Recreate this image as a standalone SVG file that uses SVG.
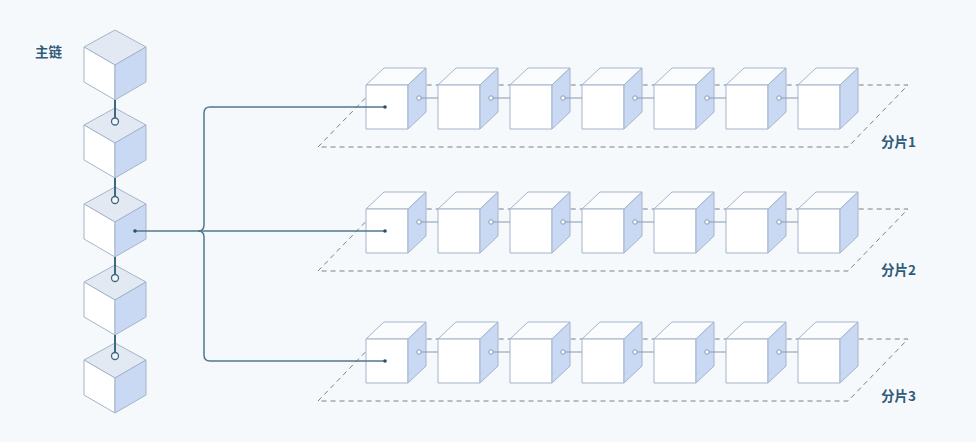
<svg xmlns="http://www.w3.org/2000/svg" xmlns:xlink="http://www.w3.org/1999/xlink" width="976" height="442" viewBox="0 0 976 442">
<style>
.bg{fill:#f6f9fc}
.edge{stroke:#a3b4ca;stroke-width:1;stroke-linejoin:round}
.top{fill:#e3e9f3}
.stop{fill:#fbfcfe}
.left{fill:#ffffff}
.right{fill:#c9d9f4}
.plane{fill:none;stroke:#74838f;stroke-width:1;stroke-dasharray:5 4}
.link{stroke:#3e6880;stroke-width:2;fill:none}
.slink{stroke:#8a9bb0;stroke-width:1;fill:none}
.knob{fill:#f3f6fa;stroke:#3e6880;stroke-width:1.3}
.sknob{fill:#ffffff;stroke:#7f92aa;stroke-width:0.9}
.brace{stroke:#52778f;stroke-width:1.5;fill:none}
.dot{fill:#2f4f66}
.lbl{font-family:"Noto Sans CJK SC","Noto Sans",sans-serif;font-size:13.5px;font-weight:bold;fill:#2f5b78}
</style>
<defs>
<g id="mcube">
<polygon class="top edge" points="0,0 31,17 0,35 -31,17"/>
<polygon class="left edge" points="-31,17 0,35 0,70 -31,52"/>
<polygon class="right edge" points="31,17 0,35 0,70 31,52"/>
</g>
<g id="scube">
<polygon class="stop edge" points="0,0 18,-17 60,-17 42,0"/>
<rect class="left edge" x="0" y="0" width="42" height="44"/>
<polygon class="right edge" points="42,0 60,-17 60,27 42,44"/>
</g>
<g id="slinkc">
<line class="slink" x1="55" y1="13" x2="72" y2="13"/>
<circle class="sknob" cx="53" cy="13" r="2.2"/>
</g>
</defs>
<rect class="bg" x="0" y="0" width="976" height="442"/>

<text class="lbl" x="35" y="57">主链</text>

<g id="planes">
<polygon class="plane" points="318,147 378,85 908,85 848,147"/>
<polygon class="plane" points="318,271 378,209 908,209 848,271"/>
<polygon class="plane" points="318,401 378,339 908,339 848,401"/>
</g>

<g id="main-chain">
<g id="m1"><use xlink:href="#mcube" x="115" y="30"/></g>
<g id="m2"><use xlink:href="#mcube" x="115" y="108"/></g>
<g id="m3"><use xlink:href="#mcube" x="115" y="187"/></g>
<g id="m4"><use xlink:href="#mcube" x="115" y="265"/></g>
<g id="m5"><use xlink:href="#mcube" x="115" y="343"/></g>
</g>

<g id="shard1">
<g id="s1c1"><use xlink:href="#scube" x="366" y="85"/></g>
<g id="s1c2"><use xlink:href="#scube" x="438" y="85"/></g>
<g id="s1c3"><use xlink:href="#scube" x="510" y="85"/></g>
<g id="s1c4"><use xlink:href="#scube" x="582" y="85"/></g>
<g id="s1c5"><use xlink:href="#scube" x="654" y="85"/></g>
<g id="s1c6"><use xlink:href="#scube" x="726" y="85"/></g>
<g id="s1c7"><use xlink:href="#scube" x="798" y="85"/></g>
<text class="lbl" x="881" y="147">分片1</text>
</g>
<g id="shard2">
<g id="s2c1"><use xlink:href="#scube" x="366" y="209"/></g>
<g id="s2c2"><use xlink:href="#scube" x="438" y="209"/></g>
<g id="s2c3"><use xlink:href="#scube" x="510" y="209"/></g>
<g id="s2c4"><use xlink:href="#scube" x="582" y="209"/></g>
<g id="s2c5"><use xlink:href="#scube" x="654" y="209"/></g>
<g id="s2c6"><use xlink:href="#scube" x="726" y="209"/></g>
<g id="s2c7"><use xlink:href="#scube" x="798" y="209"/></g>
<text class="lbl" x="881" y="275">分片2</text>
</g>
<g id="shard3">
<g id="s3c1"><use xlink:href="#scube" x="366" y="339"/></g>
<g id="s3c2"><use xlink:href="#scube" x="438" y="339"/></g>
<g id="s3c3"><use xlink:href="#scube" x="510" y="339"/></g>
<g id="s3c4"><use xlink:href="#scube" x="582" y="339"/></g>
<g id="s3c5"><use xlink:href="#scube" x="654" y="339"/></g>
<g id="s3c6"><use xlink:href="#scube" x="726" y="339"/></g>
<g id="s3c7"><use xlink:href="#scube" x="798" y="339"/></g>
<text class="lbl" x="881" y="401">分片3</text>
</g>

<g id="connectors">
<line class="link" x1="115" y1="100" x2="115" y2="118"/>
<circle class="knob" cx="115" cy="121.5" r="3.5"/>
<line class="link" x1="115" y1="178" x2="115" y2="196.5"/>
<circle class="knob" cx="115" cy="200" r="3.5"/>
<line class="link" x1="115" y1="257" x2="115" y2="274.5"/>
<circle class="knob" cx="115" cy="278" r="3.5"/>
<line class="link" x1="115" y1="335" x2="115" y2="352.5"/>
<circle class="knob" cx="115" cy="356" r="3.5"/>

<use xlink:href="#slinkc" x="366" y="85"/>
<use xlink:href="#slinkc" x="438" y="85"/>
<use xlink:href="#slinkc" x="510" y="85"/>
<use xlink:href="#slinkc" x="582" y="85"/>
<use xlink:href="#slinkc" x="654" y="85"/>
<use xlink:href="#slinkc" x="726" y="85"/>
<use xlink:href="#slinkc" x="366" y="209"/>
<use xlink:href="#slinkc" x="438" y="209"/>
<use xlink:href="#slinkc" x="510" y="209"/>
<use xlink:href="#slinkc" x="582" y="209"/>
<use xlink:href="#slinkc" x="654" y="209"/>
<use xlink:href="#slinkc" x="726" y="209"/>
<use xlink:href="#slinkc" x="366" y="339"/>
<use xlink:href="#slinkc" x="438" y="339"/>
<use xlink:href="#slinkc" x="510" y="339"/>
<use xlink:href="#slinkc" x="582" y="339"/>
<use xlink:href="#slinkc" x="654" y="339"/>
<use xlink:href="#slinkc" x="726" y="339"/>

<path class="brace" d="M385,107 H210 Q204,107 204,113 V225 Q204,231 198,231 Q204,231 204,237 V355 Q204,361 210,361 H385"/>
<line class="brace" x1="135" y1="231" x2="385" y2="231"/>
<circle class="dot" cx="385" cy="107" r="1.8"/>
<circle class="dot" cx="385" cy="231" r="1.8"/>
<circle class="dot" cx="385" cy="361" r="1.8"/>
<circle class="dot" cx="135" cy="231" r="1.8"/>
</g>
</svg>
